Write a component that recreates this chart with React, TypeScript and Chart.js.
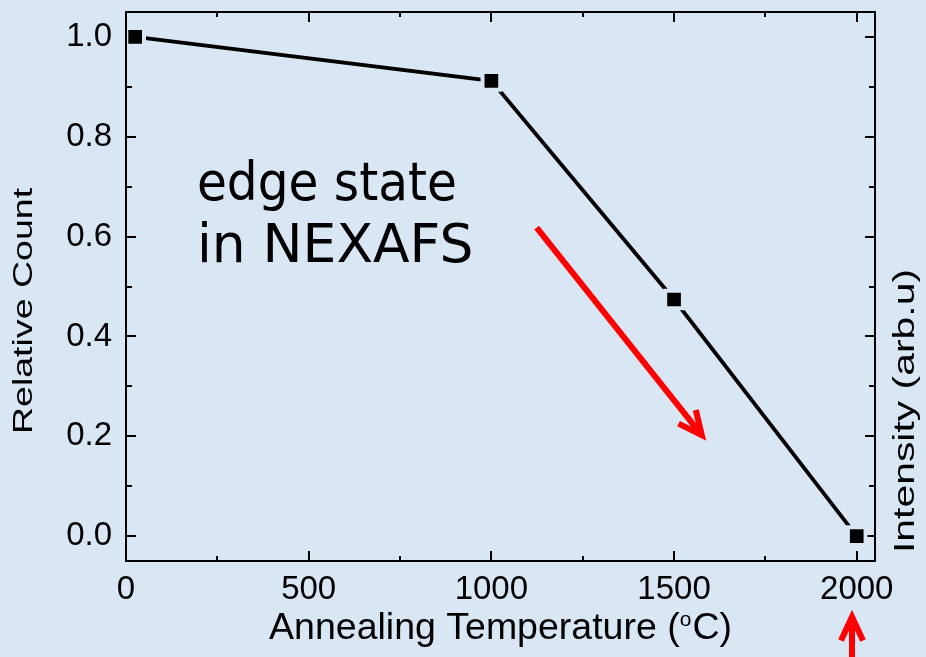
import React, { useEffect, useRef } from 'react';
import { Chart, registerables } from 'chart.js';

Chart.register(...registerables);

// ---- data ----
const temperatures = [25, 1000, 1500, 2000];
const relativeCounts = [1.0, 0.912, 0.474, 0.0];

const xTicks = [0, 250, 500, 750, 1000, 1250, 1500, 1750, 2000];
const xTickLabels = ['0', '', '500', '', '1000', '', '1500', '', '2000'];
const yTicks = [0, 0.1, 0.2, 0.3, 0.4, 0.5, 0.6, 0.7, 0.8, 0.9, 1.0];
const yTickLabels = ['0.0', '', '0.2', '', '0.4', '', '0.6', '', '0.8', '', '1.0'];
const xRange = [0, 2050];
const yRange = [-0.05, 1.05];

const xTitleMain = 'Annealing Temperature (';
const xTitleSup = 'o';
const xTitleEnd = 'C)';
const yTitle = 'Relative Count';
const y2Title = 'Intensity (arb.u)';

const noteLines = ['edge state', 'in NEXAFS'];
const noteX = [194, 194];
const noteY = [0.674, 0.55];

// arrows: [tail, tip] in data units
const trendArrow = [[1124, 0.618], [1576, 0.202]];
const markerArrow = [[1987, -0.26], [1987, -0.162]];

const BG = '#d9e6f4';
const SANS = '"Liberation Sans", Arial, sans-serif';
const NOTE_STRETCH = [0.9, 0.99];
const PLOT_TOP = 12;

function drawArrow(ctx: CanvasRenderingContext2D, x0: number, y0: number, x1: number, y1: number) {
  const ang = Math.atan2(y1 - y0, x1 - x0);
  const L = 26;
  const spread = (25 * Math.PI) / 180;
  ctx.save();
  ctx.strokeStyle = '#ff0000';
  ctx.lineWidth = 6;
  ctx.lineCap = 'butt';
  ctx.lineJoin = 'miter';
  ctx.beginPath();
  ctx.moveTo(x0, y0);
  ctx.lineTo(x1 - Math.cos(ang) * 3, y1 - Math.sin(ang) * 3);
  ctx.stroke();
  ctx.beginPath();
  ctx.moveTo(x1 - L * Math.cos(ang - spread), y1 - L * Math.sin(ang - spread));
  ctx.lineTo(x1, y1);
  ctx.lineTo(x1 - L * Math.cos(ang + spread), y1 - L * Math.sin(ang + spread));
  ctx.stroke();
  ctx.restore();
}

const decorPlugin = {
  id: 'decor',
  afterLayout(chart: any) {
    const a = chart.chartArea;
    const y = chart.scales.y;
    a.top = PLOT_TOP;
    a.height = a.bottom - a.top;
    y.top = PLOT_TOP;
    y.height = y.bottom - y.top;
    y.configure();
  },
  beforeDraw(chart: any) {
    const { ctx, width, height } = chart;
    ctx.save();
    ctx.fillStyle = BG;
    ctx.fillRect(0, 0, width, height);
    ctx.restore();
  },
  beforeDatasetsDraw(chart: any) {
    const { ctx, chartArea: a, scales } = chart;
    const x = scales.x;
    const y = scales.y;
    ctx.save();
    ctx.strokeStyle = '#000';
    ctx.lineWidth = 2;
    ctx.beginPath();
    xTicks.forEach((v, i) => {
      const px = Math.round(x.getPixelForValue(v));
      const L = xTickLabels[i] ? 10 : 5;
      ctx.moveTo(px, a.bottom);
      ctx.lineTo(px, a.bottom - L);
      ctx.moveTo(px, a.top);
      ctx.lineTo(px, a.top + L);
    });
    yTicks.forEach((v, i) => {
      const py = Math.round(y.getPixelForValue(v));
      const L = yTickLabels[i] ? 10 : 6;
      ctx.moveTo(a.left, py);
      ctx.lineTo(a.left + L, py);
      ctx.moveTo(a.right, py);
      ctx.lineTo(a.right - L, py);
    });
    ctx.stroke();
    ctx.restore();

    // annotation text
    ctx.save();
    ctx.fillStyle = '#000';
    ctx.font = '54px "DejaVu Sans", sans-serif';
    ctx.textBaseline = 'alphabetic';
    ctx.textAlign = 'left';
    noteLines.forEach((t, i) => {
      const px = x.getPixelForValue(noteX[i]);
      const py = y.getPixelForValue(noteY[i]);
      ctx.save();
      ctx.translate(px, py);
      ctx.scale(NOTE_STRETCH[i], 1);
      ctx.fillText(t, 0, 0);
      ctx.restore();
    });
    ctx.restore();

    // trend arrow
    drawArrow(
      ctx,
      x.getPixelForValue(trendArrow[0][0]),
      y.getPixelForValue(trendArrow[0][1]),
      x.getPixelForValue(trendArrow[1][0]),
      y.getPixelForValue(trendArrow[1][1])
    );
  },
  afterDraw(chart: any) {
    const { ctx, chartArea: a, scales, height } = chart;
    const x = scales.x;
    const y = scales.y;
    ctx.save();
    ctx.strokeStyle = '#000';
    ctx.lineWidth = 2;
    ctx.strokeRect(a.left, a.top, a.right - a.left, a.bottom - a.top);
    ctx.restore();

    // x title with superscript
    ctx.save();
    ctx.fillStyle = '#000';
    ctx.textBaseline = 'alphabetic';
    ctx.textAlign = 'left';
    const mainFont = `37.5px ${SANS}`;
    const supFont = `21px ${SANS}`;
    ctx.font = mainFont;
    const w1 = ctx.measureText(xTitleMain).width;
    const w3 = ctx.measureText(xTitleEnd).width;
    ctx.font = supFont;
    const w2 = ctx.measureText(xTitleSup).width + 1;
    const total = w1 + w2 + w3;
    const cx = (a.left + a.right) / 2;
    const base = height - 18;
    let sx = cx - total / 2;
    ctx.font = mainFont;
    ctx.fillText(xTitleMain, sx, base);
    sx += w1;
    ctx.font = supFont;
    ctx.fillText(xTitleSup, sx, base - 13);
    sx += w2;
    ctx.font = mainFont;
    ctx.fillText(xTitleEnd, sx, base);
    ctx.restore();

    // left y title (stretched along its length, as in the reference)
    ctx.save();
    ctx.fillStyle = '#000';
    ctx.font = `27px ${SANS}`;
    ctx.textAlign = 'center';
    ctx.textBaseline = 'alphabetic';
    ctx.translate(32, 311);
    ctx.rotate(-Math.PI / 2);
    ctx.scale(1.39, 1);
    ctx.fillText(yTitle, 0, 0);
    ctx.restore();

    // right y title
    ctx.save();
    ctx.fillStyle = '#000';
    ctx.font = `29px ${SANS}`;
    ctx.textAlign = 'center';
    ctx.textBaseline = 'alphabetic';
    ctx.translate(914, 411);
    ctx.rotate(-Math.PI / 2);
    ctx.scale(1.41, 1);
    ctx.fillText(y2Title, 0, 0);
    ctx.restore();

    // marker arrow below the axis
    drawArrow(
      ctx,
      x.getPixelForValue(markerArrow[0][0]),
      y.getPixelForValue(markerArrow[0][1]),
      x.getPixelForValue(markerArrow[1][0]),
      y.getPixelForValue(markerArrow[1][1])
    );
  },
};

export default function App() {
  const ref = useRef<HTMLCanvasElement | null>(null);
  useEffect(() => {
    if (!ref.current) return;
    const chart = new Chart(ref.current, {
      type: 'line',
      data: {
        datasets: [
          {
            data: temperatures.map((t, i) => ({ x: t, y: relativeCounts[i] })),
            borderColor: '#000',
            borderWidth: 3.8,
            pointStyle: 'rect',
            pointRadius: 12.5,
            pointBackgroundColor: '#000',
            pointBorderColor: BG,
            pointBorderWidth: 4,
            tension: 0,
            clip: false as any,
          },
        ],
      },
      options: {
        responsive: false,
        animation: false,
        events: [],
        layout: { padding: { top: 12, right: 51, left: 0, bottom: 0 } },
        plugins: {
          legend: { display: false },
          tooltip: { enabled: false },
          title: { display: false },
        },
        scales: {
          x: {
            type: 'linear',
            min: xRange[0],
            max: xRange[1],
            grid: { display: false, drawTicks: false },
            border: { display: false },
            afterBuildTicks: (s: any) => {
              s.ticks = xTicks.map((v) => ({ value: v }));
            },
            afterFit: (s: any) => {
              s.height = 96;
              s.paddingLeft = 0;
              s.paddingRight = 0;
            },
            ticks: {
              autoSkip: false,
              maxRotation: 0,
              minRotation: 0,
              padding: 9,
              color: '#000',
              font: { family: SANS, size: 33 },
              callback: (_v: any, i: number) => xTickLabels[i],
            },
          },
          y: {
            type: 'linear',
            min: yRange[0],
            max: yRange[1],
            grid: { display: false, drawTicks: false },
            border: { display: false },
            afterBuildTicks: (s: any) => {
              s.ticks = yTicks.map((v) => ({ value: v }));
            },
            afterFit: (s: any) => {
              s.width = 126;
              s.paddingTop = 0;
              s.paddingBottom = 0;
            },
            ticks: {
              autoSkip: false,
              padding: 14,
              color: '#000',
              font: { family: SANS, size: 33 },
              callback: (_v: any, i: number) => yTickLabels[i],
            },
          },
        },
      },
      plugins: [decorPlugin],
    });
    return () => chart.destroy();
  }, []);
  return (
    <div style={{ position: 'fixed', left: 0, top: 0, width: 926, height: 657 }}>
      <canvas ref={ref} width={926} height={657} style={{ display: 'block' }} />
    </div>
  );
}
